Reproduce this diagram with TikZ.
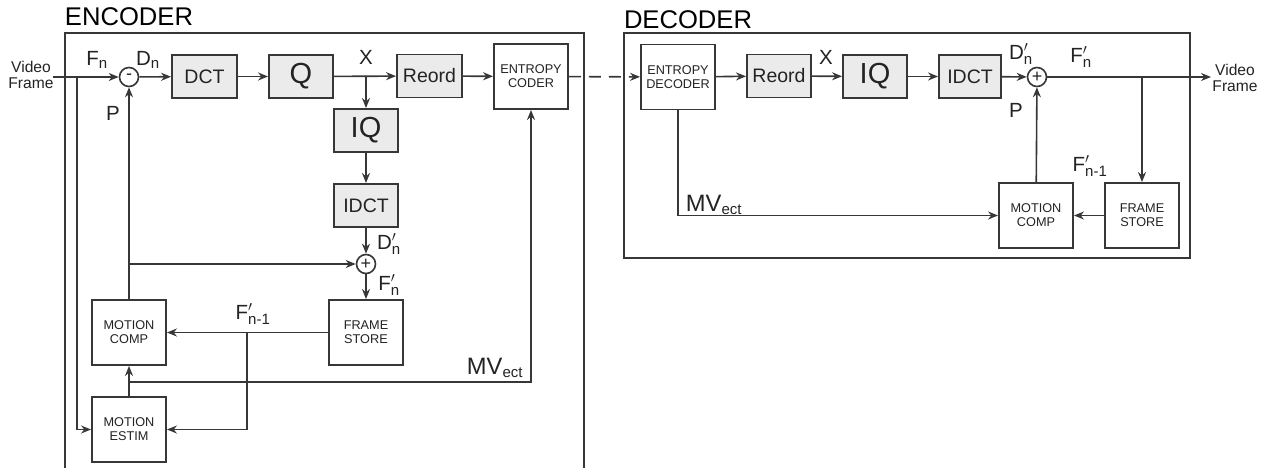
\documentclass[tikz,border=0pt]{standalone}
\usepackage{fontspec}
\setmainfont{Liberation Sans}
\usetikzlibrary{arrows.meta,positioning}
\definecolor{linegray}{RGB}{55,55,55}
\definecolor{boxfill}{RGB}{235,235,235}
\definecolor{textgray}{RGB}{35,35,35}
\newcommand{\sigsub}[2]{#1$_{\mbox{\fontsize{15}{15}\selectfont #2}}$}
\newcommand{\sigpr}[2]{#1$'_{\mbox{\fontsize{15}{15}\selectfont #2}}$}

\begin{document}
\begin{tikzpicture}[
    x=1pt, y=-1pt,
    proc/.style={rectangle,draw=linegray,fill=boxfill,line width=1.9pt,inner sep=0pt,
      minimum width=64pt,minimum height=43pt,text=textgray,font=\fontsize{19.5}{22}\selectfont},
    big/.style={font=\fontsize{29}{32}\selectfont},
    unit/.style={rectangle,draw=linegray,fill=white,line width=1.9pt,inner sep=0pt,
      minimum width=74pt,minimum height=65pt,align=center,text=textgray,font=\fontsize{12.7}{14}\selectfont},
    junct/.style={circle,draw=linegray,line width=1.6pt,inner sep=0pt,minimum size=19pt,
      text=textgray,font=\fontsize{18}{18}\selectfont},
    sig/.style={inner sep=0pt,text=textgray,font=\fontsize{20.5}{24}\selectfont},
    mv/.style={font=\fontsize{23.7}{26}\selectfont},
    title/.style={inner sep=0pt,text=black,font=\fontsize{25.6}{28}\selectfont},
    vid/.style={inner sep=0pt,align=center,text=textgray,font=\fontsize{15.6}{16}\selectfont},
    flow/.style={-{Stealth[length=10pt,width=8pt]},draw=linegray,line width=1.6pt},
    frame/.style={draw=linegray,line width=2.3pt}
  ]
    \useasboundingbox (0,0) rectangle (1264,468);

    % encoder
    \draw[frame] (65,468) |- (584,33) -- (584,468);
    \node[title] (enc) at (129,17) {ENCODER};
    \node[vid] (vidin) at (31,75) {Video\\Frame};

    \node[junct] (sub) at (129,77) {-};
    \node[proc,minimum width=65pt] (dct) at (204.5,76.5) {DCT};
    \node[proc,big] (q) at (301,76.5) {Q};
    \node[proc,minimum width=65pt] (reord) at (429.5,76) {Reord};
    \node[unit] (coder) at (531,76.5) {ENTROPY\\CODER};
    \node[proc,big] (iq) at (366,130.5) {IQ};
    \node[proc] (idct) at (366,205.5) {IDCT};
    \node[junct] (add) at (366,264) {+};
    \node[unit] (store) at (366,332.5) {FRAME\\STORE};
    \node[unit] (comp) at (129,332.5) {MOTION\\COMP};
    \node[unit] (estim) at (129,429.5) {MOTION\\ESTIM};

    \coordinate (vin) at (53,77);
    \coordinate (fork) at (77,77);
    \coordinate (xfork) at (366,77);
    \coordinate (pfork) at (129,264);
    \coordinate (ffork) at (247,332.5);
    \coordinate (mvfork) at (129,382);

    \node[sig] (lfn) at (97,60) {\sigsub{F}{n}};
    \node[sig] (ldn) at (148,60) {\sigsub{D}{n}};
    \node[sig] (lp) at (113,113) {P};
    \node[sig] (lx) at (366,57) {X};
    \node[sig] (ldr) at (389,244) {\sigpr{D}{n}};
    \node[sig] (lfr) at (389,285) {\sigpr{F}{n}};
    \node[sig] (lfo) at (253,314) {\sigpr{F}{n-1}};
    \node[sig,mv] (lmv) at (495,368) {\sigsub{MV}{ect}};

    \draw[flow] (vin) -- (sub);
    \draw[flow] (fork) |- (estim.west);
    \draw[flow] (sub) -- (dct);
    \draw[flow] (dct) -- (q);
    \draw[flow] (q) -- (reord);
    \draw[flow] (reord) -- (coder);
    \draw[flow] (xfork) -- (iq);
    \draw[flow] (iq) -- (idct);
    \draw[flow] (idct) -- (add);
    \draw[flow] (add) -- (store);
    \draw[flow] (comp) -- (sub);
    \draw[flow] (pfork) -- (add);
    \draw[flow] (store) -- (comp);
    \draw[flow] (ffork) |- (estim.east);
    \draw[flow] (estim) -- (comp);
    \draw[flow] (mvfork) -| (coder);

    % decoder
    \draw[frame] (624,33) rectangle (1190,258);
    \node[title] (dec) at (688,20) {DECODER};
    \node[vid] (vidout) at (1235,78) {Video\\Frame};

    \node[unit] (ddec) at (678,77) {ENTROPY\\DECODER};
    \node[proc] (dreord) at (779,76) {Reord};
    \node[proc,big] (diq) at (875,76.5) {IQ};
    \node[proc,minimum width=62pt] (didct) at (970,76.5) {IDCT};
    \node[junct] (dadd) at (1037,77) {+};
    \node[unit] (dcomp) at (1036,215.5) {MOTION\\COMP};
    \node[unit] (dstore) at (1142,215.5) {FRAME\\STORE};

    \coordinate (vout) at (1211,77);
    \coordinate (dfork) at (1142,77);

    \node[sig] (dlx) at (826,57) {X};
    \node[sig] (dldr) at (1021,54) {\sigpr{D}{n}};
    \node[sig] (dlp) at (1016,110) {P};
    \node[sig] (dlfr) at (1081,57) {\sigpr{F}{n}};
    \node[sig] (dlfo) at (1090,166) {\sigpr{F}{n-1}};
    \node[sig,mv] (dlmv) at (714,205) {\sigsub{MV}{ect}};

    \draw[flow,dash pattern=on 12pt off 8pt] (coder) -- (ddec);
    \draw[flow] (ddec) -- (dreord);
    \draw[flow] (dreord) -- (diq);
    \draw[flow] (diq) -- (didct);
    \draw[flow] (didct) -- (dadd);
    \draw[flow] (dadd) -- (vout);
    \draw[flow] (dfork) -- (dstore);
    \draw[flow] (dstore) -- (dcomp);
    \draw[flow] (dcomp) -- (dadd);
    \draw[flow] (ddec) |- (dcomp);
  \end{tikzpicture}
\end{document}
